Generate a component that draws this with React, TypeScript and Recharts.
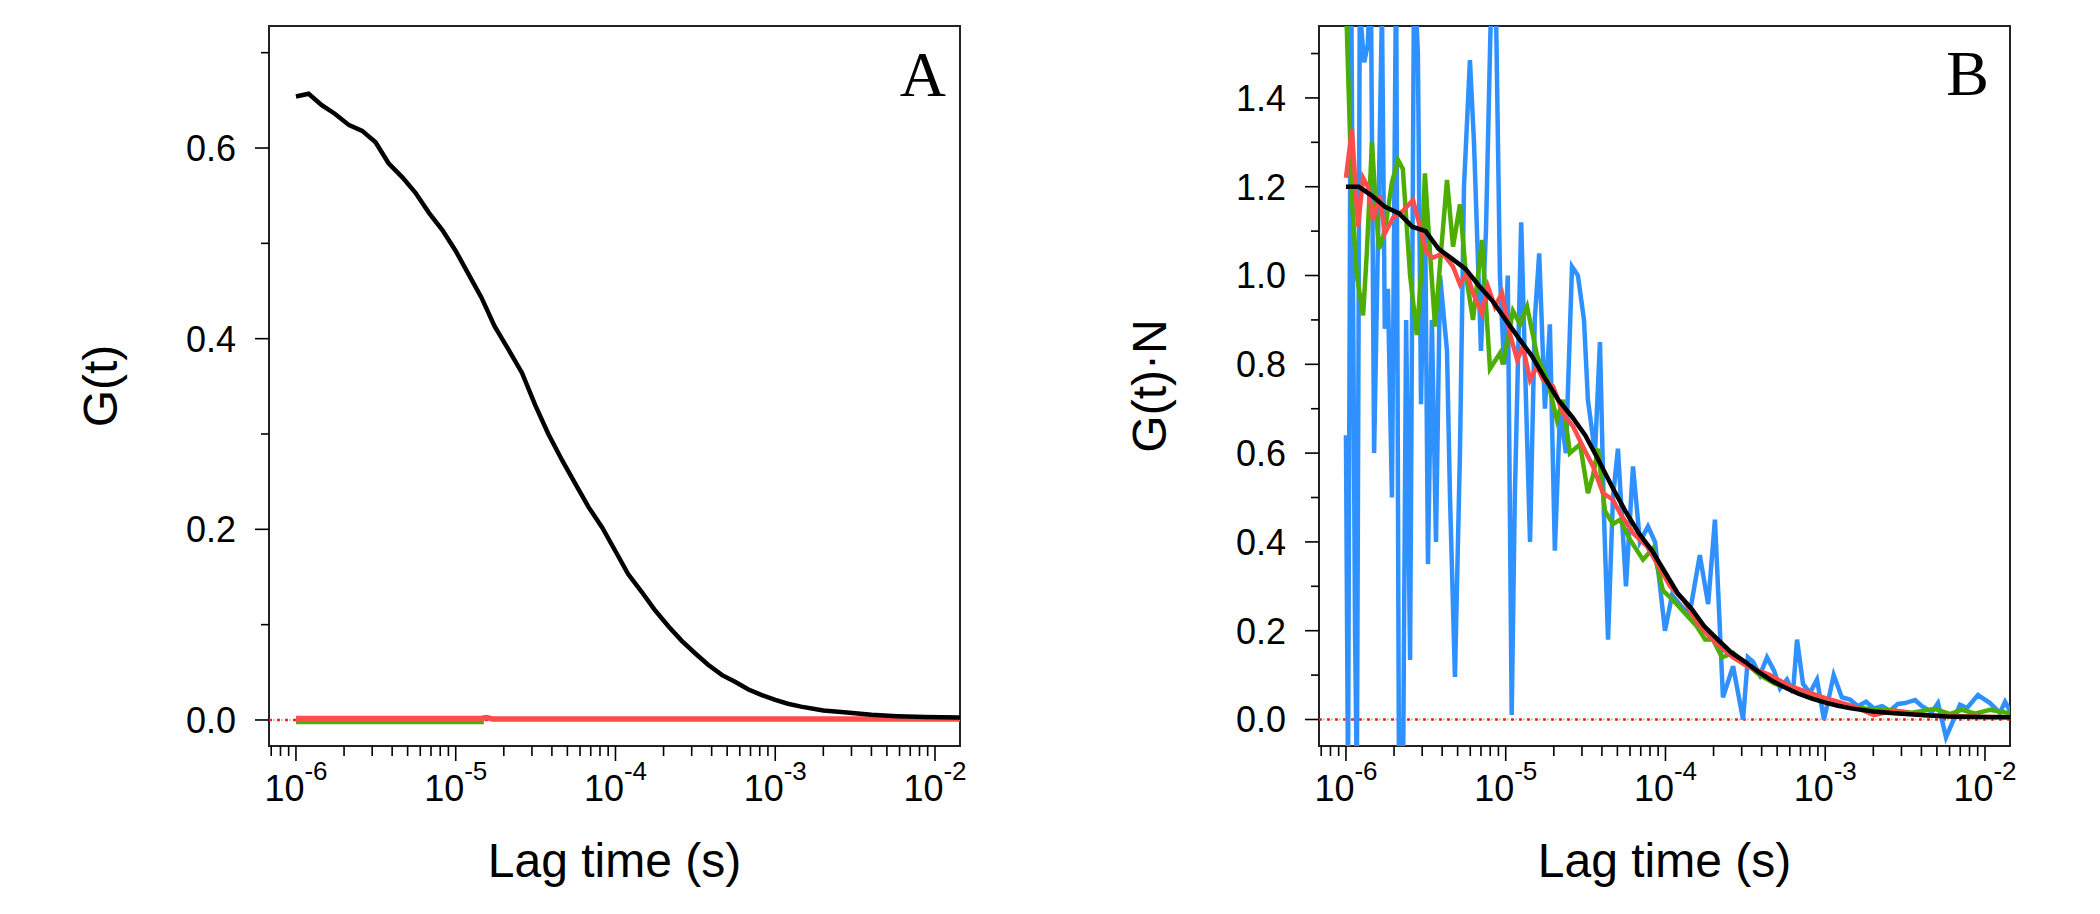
import { Line, LineChart, ReferenceArea, ReferenceLine, XAxis, YAxis } from 'recharts';

// lag time grid shared by the two fitted (black) curves, seconds
const gridLag = [
  1.0e-6, 1.2e-6, 1.45e-6, 1.75e-6, 2.15e-6, 2.6e-6, 3.15e-6, 3.8e-6, 4.65e-6, 5.6e-6, 6.8e-6, 8.25e-6,
  1.0e-5, 1.2e-5, 1.45e-5, 1.75e-5, 2.15e-5, 2.6e-5, 3.15e-5, 3.8e-5, 4.65e-5, 5.6e-5, 6.8e-5, 8.25e-5,
  1.0e-4, 1.2e-4, 1.45e-4, 1.75e-4, 2.15e-4, 2.6e-4, 3.15e-4, 3.8e-4, 4.65e-4, 5.6e-4, 6.8e-4, 8.25e-4,
  1.0e-3, 1.2e-3, 1.45e-3, 2.0e-3, 2.7e-3, 4.0e-3, 5.8e-3, 8.6e-3, 1.434e-2,
];

// panel A : G(t)
const blackA = [
  0.654, 0.657, 0.645, 0.636, 0.624, 0.618, 0.606, 0.584, 0.569, 0.553, 0.532, 0.514,
  0.492, 0.468, 0.443, 0.413, 0.388, 0.364, 0.33, 0.3, 0.272, 0.248, 0.223, 0.202,
  0.177, 0.153, 0.135, 0.116, 0.098, 0.083, 0.07, 0.058, 0.047, 0.04, 0.032, 0.026,
  0.021, 0.017, 0.014, 0.01, 0.008, 0.0055, 0.004, 0.003, 0.0025,
];
const redLagA = [1.0e-6, 1.45e-5, 1.55e-5, 1.7e-5, 1.434e-2];
const redA = [0.0015, 0.0015, 0.0025, 0.001, 0.001];
const greenLagA = [1.0e-6, 1.5e-5];
const greenA = [-0.002, -0.002];

// panel B : G(t)*N
const blackB = [
  1.2, 1.2, 1.18, 1.155, 1.14, 1.11, 1.1, 1.06, 1.037, 1.015, 0.977, 0.943,
  0.9, 0.86, 0.82, 0.77, 0.718, 0.682, 0.64, 0.585, 0.523, 0.47, 0.42, 0.38,
  0.33, 0.283, 0.25, 0.21, 0.178, 0.15, 0.13, 0.108, 0.087, 0.072, 0.058, 0.047,
  0.038, 0.031, 0.025, 0.018, 0.014, 0.01, 0.007, 0.0055, 0.005,
];

const redLagB = [
  1.0e-6, 1.09e-6, 1.19e-6, 1.28e-6, 1.37e-6, 1.48e-6, 1.63e-6, 1.75e-6, 1.97e-6, 2.27e-6, 2.63e-6,
  3.21e-6, 3.5e-6, 4.05e-6, 4.68e-6, 5.17e-6, 5.72e-6, 6.24e-6, 7.1e-6, 7.74e-6, 8.56e-6, 9.47e-6,
  1.06e-5, 1.18e-5, 1.28e-5, 1.42e-5, 1.57e-5, 1.71e-5, 1.98e-5, 2.28e-5, 2.64e-5, 3.05e-5, 3.52e-5,
  4.06e-5, 4.69e-5, 5.19e-5, 6.26e-5, 7.66e-5, 9.24e-5, 1.07e-4, 1.29e-4, 1.64e-4, 2.1e-4, 2.65e-4,
  3.24e-4, 4.51e-4, 6.02e-4, 8.03e-4, 1.07e-3, 1.49e-3, 2.02e-3, 2.69e-3, 3.98e-3, 6.4e-3, 9.31e-3,
  1.434e-2,
];
const redB = [
  1.22, 1.33, 1.11, 1.22, 1.2, 1.125, 1.18, 1.095, 1.13, 1.145, 1.17,
  1.05, 1.04, 1.05, 1.02, 0.98, 1.005, 0.96, 0.915, 0.975, 0.93, 0.96,
  0.87, 0.81, 0.84, 0.765, 0.795, 0.765, 0.75, 0.69, 0.66, 0.614, 0.57,
  0.51, 0.495, 0.465, 0.42, 0.39, 0.34, 0.3, 0.27, 0.21, 0.17, 0.14,
  0.12, 0.1, 0.075, 0.06, 0.045, 0.03, 0.01, 0.02, 0.01, 0.008, 0.006,
  0.005,
];

const greenLagB = [
  1.0e-6, 1.045e-6, 1.09e-6, 1.17e-6, 1.28e-6, 1.35e-6, 1.455e-6, 1.54e-6, 1.61e-6, 1.75e-6,
  1.94e-6, 2.12e-6, 2.27e-6, 2.52e-6, 2.78e-6, 2.95e-6, 3.12e-6, 3.36e-6, 3.61e-6, 3.93e-6,
  4.29e-6, 4.68e-6, 5.17e-6, 5.64e-6, 6.24e-6, 7.1e-6, 7.97e-6, 9.2e-6, 9.61e-6,
  1.11e-5, 1.23e-5, 1.36e-5, 1.57e-5, 1.84e-5, 2.09e-5, 2.28e-5, 2.52e-5, 2.92e-5, 3.27e-5,
  3.52e-5, 3.78e-5, 4.18e-5, 4.69e-5, 5.19e-5, 6.0e-5, 7.23e-5, 8.35e-5, 9.65e-5,
  1.11e-4, 1.32e-4, 1.57e-4, 1.77e-4, 1.98e-4, 2.26e-4, 2.65e-4, 3.15e-4, 3.9e-4, 4.85e-4, 5.76e-4,
  6.95e-4, 8.5e-4, 1.07e-3, 1.49e-3, 2.05e-3, 2.69e-3, 3.49e-3, 4.86e-3, 6.04e-3, 7.18e-3, 8.66e-3,
  1.075e-2, 1.434e-2,
];
const greenB = [
  1.62, 1.39, 1.17, 1.0, 0.91, 1.05, 1.3, 1.15, 1.06, 1.1,
  1.21, 1.26, 1.24, 1.0, 0.866, 1.0, 1.23, 1.05, 0.885, 1.05,
  1.215, 1.065, 1.16, 1.0, 0.9, 1.08, 0.79, 0.825, 0.8,
  0.92, 0.89, 0.93, 0.82, 0.76, 0.675, 0.72, 0.6, 0.62, 0.51,
  0.55, 0.61, 0.47, 0.44, 0.45, 0.405, 0.36, 0.385, 0.29,
  0.27, 0.24, 0.21, 0.18, 0.18, 0.14, 0.15, 0.127, 0.1, 0.08, 0.075,
  0.06, 0.055, 0.04, 0.028, 0.022, 0.02, 0.015, 0.024, 0.012, 0.022, 0.013,
  0.022, 0.014,
];

const blueLagB = [
  1.0e-6, 1.03e-6, 1.075e-6, 1.14e-6, 1.17e-6, 1.22e-6, 1.3e-6, 1.37e-6, 1.43e-6, 1.5e-6,
  1.59e-6, 1.68e-6, 1.75e-6, 1.83e-6, 1.94e-6, 2.06e-6, 2.15e-6, 2.27e-6, 2.38e-6, 2.52e-6,
  2.67e-6, 2.82e-6, 2.95e-6, 3.12e-6, 3.26e-6, 3.45e-6, 3.66e-6, 3.88e-6, 4.29e-6, 4.48e-6,
  4.81e-6, 5.17e-6, 5.48e-6, 5.97e-6, 6.33e-6, 7.0e-6, 7.52e-6, 8.2e-6, 8.69e-6, 9.2e-6,
  9.75e-6, 1.03e-5, 1.09e-5, 1.14e-5, 1.25e-5, 1.32e-5, 1.42e-5, 1.52e-5, 1.62e-5, 1.76e-5,
  1.89e-5, 2.03e-5, 2.19e-5, 2.38e-5, 2.6e-5, 2.83e-5, 3.09e-5,
  3.27e-5, 3.62e-5, 3.89e-5, 4.12e-5, 4.37e-5, 4.69e-5, 5.04e-5, 5.66e-5, 6.26e-5, 6.92e-5,
  7.77e-5, 8.6e-5, 9.93e-5, 1.1e-4, 1.29e-4, 1.42e-4, 1.64e-4, 1.85e-4, 2.04e-4, 2.29e-4,
  2.65e-4, 3.06e-4, 3.28e-4, 3.53e-4, 3.9e-4, 4.32e-4, 4.78e-4, 5.21e-4, 5.76e-4, 6.28e-4,
  6.66e-4, 7.26e-4, 8.03e-4, 8.88e-4, 9.82e-4, 1.07e-3, 1.13e-3, 1.27e-3, 1.43e-3, 1.6e-3,
  1.8e-3, 2.02e-3, 2.27e-3, 2.54e-3, 2.85e-3, 3.16e-3, 3.65e-3, 4.03e-3, 4.66e-3, 5.08e-3,
  5.7e-3, 6.98e-3, 7.72e-3, 9.04e-3, 1.075e-2, 1.24e-2, 1.335e-2, 1.434e-2,
];
const blueB = [
  0.64, -0.15, 1.75, 0.2, -0.15, 1.6, 1.48, 1.52, 1.7, 0.6,
  1.1, 1.6, 0.88, 0.97, 0.5, 1.7, -0.2, -0.2, 0.9, 0.134,
  1.7, 1.5, 0.71, 1.2, 0.35, 0.9, 0.4, 1.0, 0.83, 0.5,
  0.096, 0.6, 1.2, 1.485, 1.3, 0.83, 1.1, 1.7, 1.6, 1.0,
  0.8, 1.0, 0.01, 0.5, 1.12, 0.8, 0.4, 0.9, 1.05, 0.7,
  0.89, 0.38, 0.7, 0.6, 1.02, 1.0, 0.9,
  0.72, 0.6, 0.85, 0.46, 0.18, 0.5, 0.61, 0.3, 0.57, 0.4,
  0.435, 0.4, 0.2, 0.28, 0.25, 0.24, 0.37, 0.26, 0.45, 0.05,
  0.12, 0.0, 0.14, 0.13, 0.1, 0.14, 0.11, 0.07, 0.09, 0.06,
  0.18, 0.08, 0.06, 0.09, 0.0, 0.06, 0.1, 0.05, 0.045, 0.03,
  0.04, 0.025, 0.03, 0.02, 0.035, 0.037, 0.044, 0.03, 0.017, 0.037,
  -0.04, 0.033, 0.026, 0.055, 0.037, 0.015, 0.04, 0.02,
];

// axes
const X_MIN = 6.78e-7;
const X_MAX = 1.434e-2;
const decades = [-7, -6, -5, -4, -3, -2];
const mantissas = [1, 2, 3, 4, 5, 6, 7, 8, 9];
const xTicks = decades
  .flatMap((d) => mantissas.map((m) => m * Math.pow(10, d)))
  .filter((v) => v >= X_MIN && v <= X_MAX);

const yDomainA: [number, number] = [-0.0273, 0.728];
const yTicksA = [0, 0.1, 0.2, 0.3, 0.4, 0.5, 0.6, 0.7];
const yDomainB: [number, number] = [-0.0597, 1.562];
const yTicksB = [0, 0.1, 0.2, 0.3, 0.4, 0.5, 0.6, 0.7, 0.8, 0.9, 1.0, 1.1, 1.2, 1.3, 1.4, 1.5];

const BLUE = '#2f91ff';
const GREEN = '#4cae00';
const RED = '#ff4c4c';
const SANS = '"Liberation Sans", Arial, sans-serif';
const SERIF = '"Liberation Serif", "Times New Roman", serif';

const pts = (lag: number[], g: number[]) => lag.map((t, i) => ({ t, g: g[i] }));

function XTick(props: any) {
  const { x, y, payload } = props;
  const lg = Math.log10(payload.value);
  const e = Math.round(lg);
  const major = Math.abs(lg - e) < 1e-6;
  return (
    <g>
      <line x1={x} x2={x} y1={y} y2={y + (major ? 15 : 10)} stroke="#000" strokeWidth={1.6} />
      {major && (
        <text x={x} y={y + 55} textAnchor="middle" fontFamily={SANS} fontSize={36} fill="#000">
          10
          <tspan dy={-21} fontSize={26}>
            {String(e)}
          </tspan>
        </text>
      )}
    </g>
  );
}

function YTick(props: any) {
  const { x, y, payload } = props;
  const v = payload.value as number;
  const major = Math.round(v * 10) % 2 === 0;
  return (
    <g>
      <line x1={x} x2={x - (major ? 14 : 8)} y1={y} y2={y} stroke="#000" strokeWidth={1.6} />
      {major && (
        <text x={x - 33} y={y} dy="0.36em" textAnchor="end" fontFamily={SANS} fontSize={36} fill="#000">
          {v.toFixed(1)}
        </text>
      )}
    </g>
  );
}

type Series = { data: { t: number; g: number }[]; color: string; width: number };

function Panel({ yDomain, yTicks, series }: { yDomain: [number, number]; yTicks: number[]; series: Series[] }) {
  return (
    <LineChart width={1050} height={914} margin={{ top: 26, right: 90, bottom: 0, left: 0 }}>
      <XAxis
        type="number"
        dataKey="t"
        scale="log"
        domain={[X_MIN, X_MAX]}
        allowDataOverflow
        ticks={xTicks}
        interval={0}
        tickSize={0}
        tickMargin={0}
        tickLine={false}
        axisLine={false}
        height={168}
        tick={(p: any) => <XTick {...p} />}
      />
      <YAxis
        type="number"
        domain={yDomain}
        allowDataOverflow
        ticks={yTicks}
        interval={0}
        tickSize={0}
        tickMargin={0}
        tickLine={false}
        axisLine={false}
        width={269}
        tick={(p: any) => <YTick {...p} />}
      />
      <ReferenceLine y={0} stroke="#c8c8c8" strokeWidth={2} strokeDasharray="2 6" strokeDashoffset={-4} />
      <ReferenceLine y={0} stroke="#ff1f1f" strokeWidth={2.5} strokeDasharray="3 5" />
      {series.map((s, i) => (
        <Line
          key={i}
          data={s.data}
          dataKey="g"
          type="linear"
          dot={false}
          activeDot={false}
          stroke={s.color}
          strokeWidth={s.width}
          strokeLinejoin="miter"
          isAnimationActive={false}
        />
      ))}
      <ReferenceArea
        x1={X_MIN}
        x2={X_MAX}
        y1={yDomain[0]}
        y2={yDomain[1]}
        fill="none"
        stroke="#222"
        strokeWidth={2}
        ifOverflow="visible"
      />
    </LineChart>
  );
}

export default function App() {
  const seriesA: Series[] = [
    { data: pts(greenLagA, greenA), color: GREEN, width: 4.5 },
    { data: pts(redLagA, redA), color: RED, width: 5.5 },
    { data: pts(gridLag, blackA), color: '#000', width: 4.5 },
  ];
  const seriesB: Series[] = [
    { data: pts(blueLagB, blueB), color: BLUE, width: 4.5 },
    { data: pts(greenLagB, greenB), color: GREEN, width: 4.5 },
    { data: pts(redLagB, redB), color: RED, width: 4.5 },
    { data: pts(gridLag, blackB), color: '#000', width: 4.5 },
  ];
  return (
    <div style={{ position: 'absolute', left: 0, top: 0, width: 2100, height: 914, background: '#fff' }}>
      <div style={{ position: 'absolute', left: 0, top: 0 }}>
        <Panel yDomain={yDomainA} yTicks={yTicksA} series={seriesA} />
      </div>
      <div style={{ position: 'absolute', left: 1050, top: 0 }}>
        <Panel yDomain={yDomainB} yTicks={yTicksB} series={seriesB} />
      </div>
      <svg
        width={2100}
        height={914}
        style={{ position: 'absolute', left: 0, top: 0, pointerEvents: 'none' }}
      >
        <text x={614.5} y={877} textAnchor="middle" fontFamily={SANS} fontSize={48}>
          Lag time (s)
        </text>
        <text x={1664.5} y={877} textAnchor="middle" fontFamily={SANS} fontSize={48}>
          Lag time (s)
        </text>
        <text transform="translate(117,386) rotate(-90)" textAnchor="middle" fontFamily={SANS} fontSize={48}>
          G(t)
        </text>
        <text transform="translate(1166,386) rotate(-90)" textAnchor="middle" fontFamily={SANS} fontSize={48}>
          G(t)·N
        </text>
        <text x={946} y={96} textAnchor="end" fontFamily={SERIF} fontSize={64}>
          A
        </text>
        <text x={1989} y={95} textAnchor="end" fontFamily={SERIF} fontSize={64}>
          B
        </text>
      </svg>
    </div>
  );
}
